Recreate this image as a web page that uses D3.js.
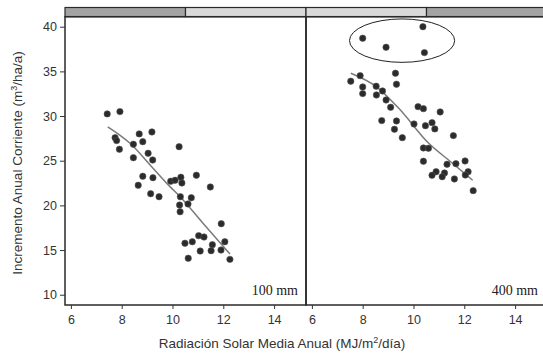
<!DOCTYPE html>
<html><head><meta charset="utf-8">
<script src="https://cdn.jsdelivr.net/npm/d3@7"></script>
<style>body{margin:0;background:#fff}svg{display:block}</style>
</head><body>
<svg id="c" width="543" height="353"></svg>
<script>
// Panel 1: 100 mm
const x100 = [7.43,7.93,7.74,7.80,7.91,8.69,9.19,8.46,8.83,8.46,9.04,9.22,10.26,8.83,9.23,8.65,9.14,9.47,9.93,10.10,10.33,10.37,10.94,11.49,10.31,10.74,10.28,10.61,10.30,11.92,11.03,11.24,10.49,10.78,11.57,12.06,11.09,11.52,11.91,10.62,12.26];
const y100 = [30.24,30.5,27.58,27.25,26.28,28.0,28.22,26.84,27.13,25.34,25.83,25.08,26.57,23.26,23.1,22.25,21.31,20.97,22.7,22.81,23.15,22.51,23.37,22.06,20.97,20.86,20.04,20.16,19.29,17.95,16.61,16.46,15.76,15.93,15.6,15.93,14.89,14.93,15.0,14.08,13.96];
const fitX100 = [7.45,8.33,9.18,9.9,10.3,11.2,12.26];
const fitY100 = [28.8,26.95,24.33,22.1,20.97,18.0,14.56];
// Panel 2: 400 mm
const x400 = [10.37,8.0,8.92,10.43,7.53,7.9,8.0,8.0,8.53,8.78,8.54,9.29,9.33,8.92,9.1,10.18,10.39,11.05,8.75,9.33,9.25,9.56,10.02,10.47,10.73,10.84,11.57,10.39,10.59,10.39,11.32,11.67,12.03,10.89,10.73,11.22,11.13,11.61,12.15,12.04,12.35];
const y400 = [40.0,38.71,37.7,37.1,33.9,34.52,33.26,32.51,33.34,32.81,32.36,34.79,33.56,31.8,30.98,31.05,30.83,30.46,29.49,29.45,28.52,27.58,29.11,28.92,29.26,28.56,27.81,26.43,26.39,24.94,24.6,24.67,24.97,23.77,23.37,23.63,23.21,22.96,23.77,23.4,21.65];
const fitX400 = [7.53,8.53,9.42,10.6,11.5,12.33];
const fitY400 = [34.79,33.3,30.87,26.95,24.8,22.81];
// outlier ellipse (data units)
const ellipse400 = {cx:9.55, cy:38.44, rx:2.07, ry:2.43};
const xTicks = [6,8,10,12,14];
const yTicks = [10,15,20,25,30,35,40];
const panelLabels = ["100 mm","400 mm"];

(function(){
const svg = d3.select("#c");
const plotTop = 16.7, plotBottom = 305, stripTop = 7.5;
const panels = [
  {L:65, R:306, xs:x100, ys:y100, fx:fitX100, fy:fitY100, label:panelLabels[0], strip:[["#a3a3a3",0,0.5],["#d9d9d9",0.5,1]]},
  {L:306, R:547, xs:x400, ys:y400, fx:fitX400, fy:fitY400, label:panelLabels[1], strip:[["#d9d9d9",0,0.5],["#a3a3a3",0.5,1]], ell:ellipse400}
];
const y = d3.scaleLinear().domain([8.85,41.12]).range([plotBottom, plotTop]);
const font = "'Liberation Sans', Arial, sans-serif";

panels.forEach((p,i)=>{
  const x = d3.scaleLinear().domain([5.768,15.256]).range([p.L,p.R]);
  const g = svg.append("g");
  p.strip.forEach(s=>{
    g.append("rect").attr("x",p.L+(p.R-p.L)*s[1]).attr("y",stripTop)
      .attr("width",(p.R-p.L)*(s[2]-s[1])).attr("height",plotTop-stripTop)
      .attr("fill",s[0]).attr("stroke","#2a2a2a").attr("stroke-width",1.2);
  });
  const line = d3.line().x(d=>x(d[0])).y(d=>y(d[1])).curve(d3.curveMonotoneX);
  g.append("path").datum(p.fx.map((v,k)=>[v,p.fy[k]])).attr("d",line)
    .attr("fill","none").attr("stroke","#7a7a7a").attr("stroke-width",1.5);
  g.selectAll("circle.pt").data(p.xs.map((v,k)=>[v,p.ys[k]])).join("circle")
    .attr("class","pt").attr("cx",d=>x(d[0])).attr("cy",d=>y(d[1])).attr("r",3.2)
    .attr("fill","#2b2b2b").attr("stroke","#555").attr("stroke-width",0.6);
  if(p.ell){
    g.append("ellipse").attr("cx",x(p.ell.cx)).attr("cy",y(p.ell.cy))
      .attr("rx",x(p.ell.cx+p.ell.rx)-x(p.ell.cx)).attr("ry",y(p.ell.cy)-y(p.ell.cy+p.ell.ry))
      .attr("fill","none").attr("stroke","#222").attr("stroke-width",1);
  }
  g.append("rect").attr("x",p.L).attr("y",plotTop).attr("width",p.R-p.L).attr("height",plotBottom-plotTop)
    .attr("fill","none").attr("stroke","#2a2a2a").attr("stroke-width",1.5);
  const ax = d3.axisBottom(x).tickValues(xTicks).tickSize(4).tickPadding(6).tickFormat(d3.format("d"));
  const axg = g.append("g").attr("transform",`translate(0,${plotBottom})`).call(ax);
  axg.select(".domain").remove();
  axg.selectAll("line").attr("stroke","#333");
  axg.selectAll("text").attr("font-family",font).attr("font-size",12.5).attr("fill","#333");
  g.append("text").attr("x",p.R-(i===0?8:9)).attr("y",295).attr("text-anchor","end")
    .attr("font-family","'Liberation Serif','Times New Roman',serif").attr("font-size",14)
    .attr("fill","#222").text(p.label);
});
const ay = d3.axisLeft(y).tickValues(yTicks).tickSize(5).tickPadding(3);
const ayg = svg.append("g").attr("transform","translate(65,0)").call(ay);
ayg.select(".domain").remove();
ayg.selectAll("line").attr("stroke","#333");
ayg.selectAll("text").attr("font-family",font).attr("font-size",12.5).attr("fill","#333");

const xt = svg.append("text").attr("x",282).attr("y",348).attr("text-anchor","middle")
  .attr("font-family",font).attr("font-size",13.5).attr("fill","#333");
xt.append("tspan").text("Radiación Solar Media Anual (MJ/m");
xt.append("tspan").attr("font-size",9).attr("dy",-5).text("2");
xt.append("tspan").attr("dy",5).text("/día)");
const yt = svg.append("text").attr("transform","translate(22,163) rotate(-90)").attr("text-anchor","middle")
  .attr("font-family",font).attr("font-size",13.5).attr("fill","#333");
yt.append("tspan").text("Incremento Anual Corriente (m");
yt.append("tspan").attr("font-size",9).attr("dy",-5).text("3");
yt.append("tspan").attr("dy",5).text("/ha/a)");
})();
</script>
</body></html>
